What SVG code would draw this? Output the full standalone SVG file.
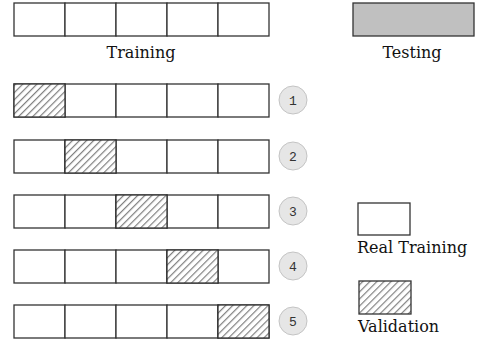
<svg xmlns="http://www.w3.org/2000/svg" width="477" height="343" viewBox="0 0 477 343">
<style>
.cell{fill:#fff;stroke:#333;stroke-width:1.3}
.val{fill:url(#hatch);stroke:#333;stroke-width:1.3}
.lbl{font-family:"DejaVu Serif","Liberation Serif",serif;font-size:16px;fill:#111}
.num{font-family:"Liberation Mono","DejaVu Sans Mono",monospace;font-size:13px;fill:#333;text-anchor:middle}
.circ{fill:#e6e6e6;stroke:#c4c4c4;stroke-width:1}
</style>
<defs>
<pattern id="hatch" patternUnits="userSpaceOnUse" width="5" height="5" patternTransform="rotate(45)">
<rect width="5" height="5" fill="#fff"/>
<line x1="0" y1="0" x2="0" y2="5" stroke="#808080" stroke-width="2.4"/>
</pattern>
<g id="row">
<rect class="cell" x="14" y="0" width="51" height="33"/>
<rect class="cell" x="65" y="0" width="51" height="33"/>
<rect class="cell" x="116" y="0" width="51" height="33"/>
<rect class="cell" x="167" y="0" width="51" height="33"/>
<rect class="cell" x="218" y="0" width="51" height="33"/>
</g>
</defs>
<g id="training">
<use href="#row" y="3"/>
<text class="lbl" x="141" y="58" text-anchor="middle">Training</text>
</g>
<g id="testing">
<rect x="353" y="3" width="121" height="33" fill="#c0c0c0" stroke="#333" stroke-width="1.3"/>
<text class="lbl" x="412" y="58" text-anchor="middle">Testing</text>
</g>
<g id="fold1">
<use href="#row" y="84"/>
<rect class="val" x="14" y="84" width="51" height="33"/>
<circle class="circ" cx="293" cy="100" r="14"/>
<text class="num" x="293" y="104.5">1</text>
</g>
<g id="fold2">
<use href="#row" y="140"/>
<rect class="val" x="65" y="140" width="51" height="33"/>
<circle class="circ" cx="293" cy="156" r="14"/>
<text class="num" x="293" y="160.5">2</text>
</g>
<g id="fold3">
<use href="#row" y="195"/>
<rect class="val" x="116" y="195" width="51" height="33"/>
<circle class="circ" cx="293" cy="211" r="14"/>
<text class="num" x="293" y="215.5">3</text>
</g>
<g id="fold4">
<use href="#row" y="250"/>
<rect class="val" x="167" y="250" width="51" height="33"/>
<circle class="circ" cx="293" cy="266" r="14"/>
<text class="num" x="293" y="270.5">4</text>
</g>
<g id="fold5">
<use href="#row" y="305"/>
<rect class="val" x="218" y="305" width="51" height="33"/>
<circle class="circ" cx="293" cy="321" r="14"/>
<text class="num" x="293" y="325.5">5</text>
</g>
<g id="legend-real">
<rect class="cell" x="358" y="203" width="52" height="32"/>
<text class="lbl" x="357" y="253">Real Training</text>
</g>
<g id="legend-val">
<rect class="val" x="359" y="281" width="52" height="33"/>
<text class="lbl" x="358" y="332">Validation</text>
</g>
<g id="connectors"/>
</svg>
